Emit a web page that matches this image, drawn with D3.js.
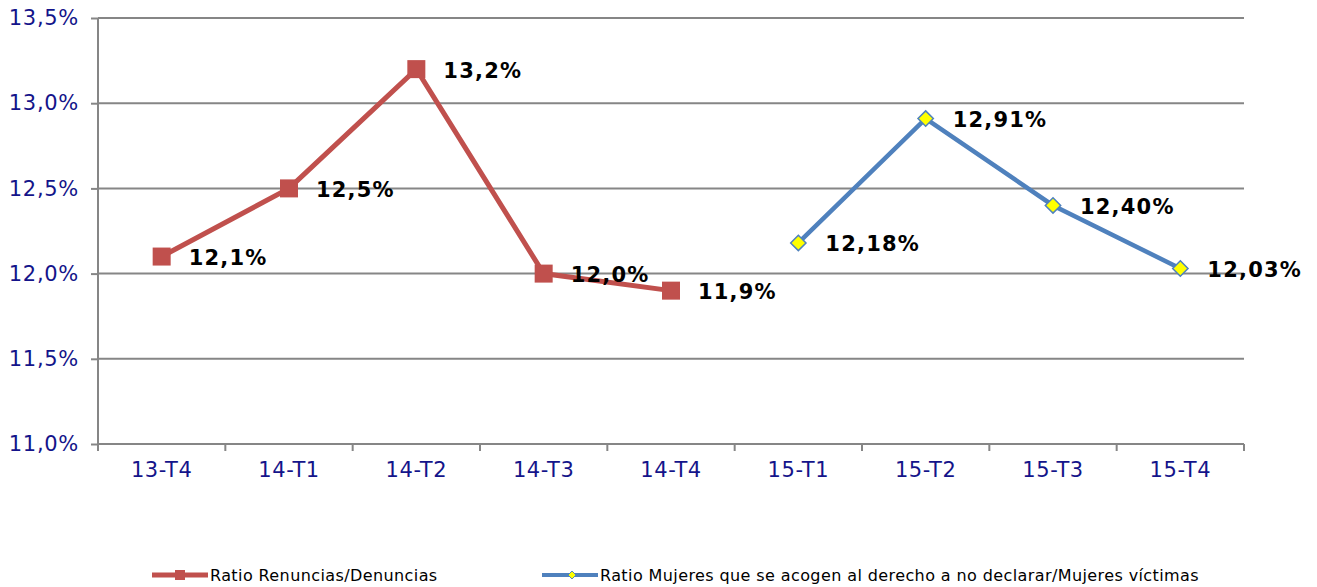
<!DOCTYPE html>
<html>
<head>
<meta charset="utf-8">
<script src="https://cdn.jsdelivr.net/npm/d3@7"></script>
<style>
    body { margin: 0; background: #fff; }
    svg text { font-family: Verdana, "DejaVu Sans", sans-serif; }
</style>
</head>
<body>
<div id="chart"></div>
<script>
// quarters on the x axis
var categories = ['13-T4', '14-T1', '14-T2', '14-T3', '14-T4', '15-T1', '15-T2', '15-T3', '15-T4'];

// Ratio Renuncias/Denuncias (%)
var renunciasCats = ['13-T4', '14-T1', '14-T2', '14-T3', '14-T4'];
var renunciasValues = [12.1, 12.5, 13.2, 12.0, 11.9];
var renunciasLabels = ['12,1%', '12,5%', '13,2%', '12,0%', '11,9%'];

// Ratio Mujeres que se acogen al derecho a no declarar/Mujeres víctimas (%)
var mujeresCats = ['15-T1', '15-T2', '15-T3', '15-T4'];
var mujeresValues = [12.18, 12.91, 12.40, 12.03];
var mujeresLabels = ['12,18%', '12,91%', '12,40%', '12,03%'];

var yTicks = [11.0, 11.5, 12.0, 12.5, 13.0, 13.5];

var width = 1317, height = 587;
var margin = { left: 98, right: 73, top: 18, bottom: 143 };
var axisColor = '#868686';
var labelColor = '#14148a';

var svg = d3.select('#chart').append('svg')
    .attr('width', width)
    .attr('height', height);

var x = d3.scaleBand()
    .domain(categories)
    .range([margin.left, width - margin.right]);

var y = d3.scaleLinear()
    .domain([11.0, 13.5])
    .range([height - margin.bottom, margin.top]);

var fmt = function(v) { return v.toFixed(1).replace('.', ',') + '%'; };

// horizontal grid lines
svg.append('g')
    .selectAll('line')
    .data(yTicks.slice(1))
    .enter()
    .append('line')
    .attr('x1', margin.left)
    .attr('x2', width - margin.right)
    .attr('y1', function(d) { return y(d); })
    .attr('y2', function(d) { return y(d); })
    .attr('stroke', axisColor)
    .attr('stroke-width', 2);

// y axis
var yAxis = svg.append('g')
    .attr('transform', 'translate(' + margin.left + ',0)')
    .call(d3.axisLeft(y).tickValues(yTicks).tickFormat(fmt).tickSize(7).tickPadding(12));

yAxis.select('.domain').attr('stroke', axisColor).attr('stroke-width', 2)
    .attr('d', 'M0,' + margin.top + 'V' + (height - margin.bottom + 7));
yAxis.selectAll('.tick line').attr('stroke', axisColor).attr('stroke-width', 2);
yAxis.selectAll('.tick text')
    .attr('fill', labelColor)
    .style('font-size', '21px')
    .style('letter-spacing', '0.7px');

// x axis: ticks sit on category boundaries
var xAxis = svg.append('g')
    .attr('transform', 'translate(0,' + (height - margin.bottom) + ')')
    .call(d3.axisBottom(x).tickSize(0).tickPadding(18));

xAxis.select('.domain').attr('stroke', axisColor).attr('stroke-width', 2)
    .attr('d', 'M' + margin.left + ',0H' + (width - margin.right));
xAxis.selectAll('.tick text')
    .attr('fill', labelColor)
    .style('font-size', '21px')
    .style('letter-spacing', '0.6px');

xAxis.append('g')
    .selectAll('line')
    .data(categories.slice(1).concat(['end']))
    .enter()
    .append('line')
    .attr('x1', function(d, i) { return x(categories[0]) + (i + 1) * x.bandwidth(); })
    .attr('x2', function(d, i) { return x(categories[0]) + (i + 1) * x.bandwidth(); })
    .attr('y1', 0)
    .attr('y2', 7)
    .attr('stroke', axisColor)
    .attr('stroke-width', 2);

var cx = function(c) { return x(c) + x.bandwidth() / 2; };

var renData = renunciasCats.map(function(c, i) { return { cat: c, v: renunciasValues[i], label: renunciasLabels[i] }; });
var mujData = mujeresCats.map(function(c, i) { return { cat: c, v: mujeresValues[i], label: mujeresLabels[i] }; });

var line = d3.line()
    .x(function(d) { return cx(d.cat); })
    .y(function(d) { return y(d.v); });

// red series
svg.append('path')
    .datum(renData)
    .attr('d', line)
    .attr('fill', 'none')
    .attr('stroke', '#C0504D')
    .attr('stroke-width', 5);

svg.append('g')
    .selectAll('rect')
    .data(renData)
    .enter()
    .append('rect')
    .attr('x', function(d) { return cx(d.cat) - 9; })
    .attr('y', function(d) { return y(d.v) - 9; })
    .attr('width', 18)
    .attr('height', 18)
    .attr('fill', '#C0504D');

// blue series
svg.append('path')
    .datum(mujData)
    .attr('d', line)
    .attr('fill', 'none')
    .attr('stroke', '#4F81BD')
    .attr('stroke-width', 4.5);

var diamond = d3.symbol().type(d3.symbolDiamond2).size(150);
svg.append('g')
    .selectAll('path')
    .data(mujData)
    .enter()
    .append('path')
    .attr('d', diamond)
    .attr('transform', function(d) { return 'translate(' + cx(d.cat) + ',' + y(d.v) + ')'; })
    .attr('fill', '#FFFF00')
    .attr('stroke', '#4F81BD')
    .attr('stroke-width', 1.5);

// data labels
svg.append('g')
    .selectAll('text')
    .data(renData.concat(mujData))
    .enter()
    .append('text')
    .attr('x', function(d) { return cx(d.cat) + 27; })
    .attr('y', function(d) { return y(d.v); })
    .attr('dy', '0.4em')
    .attr('font-weight', 'bold')
    .style('font-size', '21px')
    .style('letter-spacing', '1.2px')
    .attr('fill', '#000')
    .text(function(d) { return d.label; });

// legend
var legend = svg.append('g').attr('transform', 'translate(0,575)');

var legRed = legend.append('g').attr('transform', 'translate(152,0)');
legRed.append('line').attr('x1', 0).attr('x2', 56).attr('stroke', '#C0504D').attr('stroke-width', 5);
legRed.append('rect').attr('x', 23).attr('y', -5).attr('width', 10).attr('height', 10).attr('fill', '#C0504D');
legRed.append('text').attr('x', 58).attr('dy', '0.35em').style('font-size', '16px')
    .style('letter-spacing', '0.4px').attr('fill', '#000')
    .text('Ratio Renuncias/Denuncias');

var legBlue = legend.append('g').attr('transform', 'translate(542,0)');
legBlue.append('line').attr('x1', 0).attr('x2', 56).attr('stroke', '#4F81BD').attr('stroke-width', 4);
legBlue.append('path').attr('d', d3.symbol().type(d3.symbolDiamond2).size(40))
    .attr('transform', 'translate(30,0)').attr('fill', '#FFFF00').attr('stroke', '#4F81BD').attr('stroke-width', 1);
legBlue.append('text').attr('x', 58).attr('dy', '0.35em').style('font-size', '16px')
    .style('letter-spacing', '0.4px').attr('fill', '#000')
    .text('Ratio Mujeres que se acogen al derecho a no declarar/Mujeres víctimas');
</script>
</body>
</html>
